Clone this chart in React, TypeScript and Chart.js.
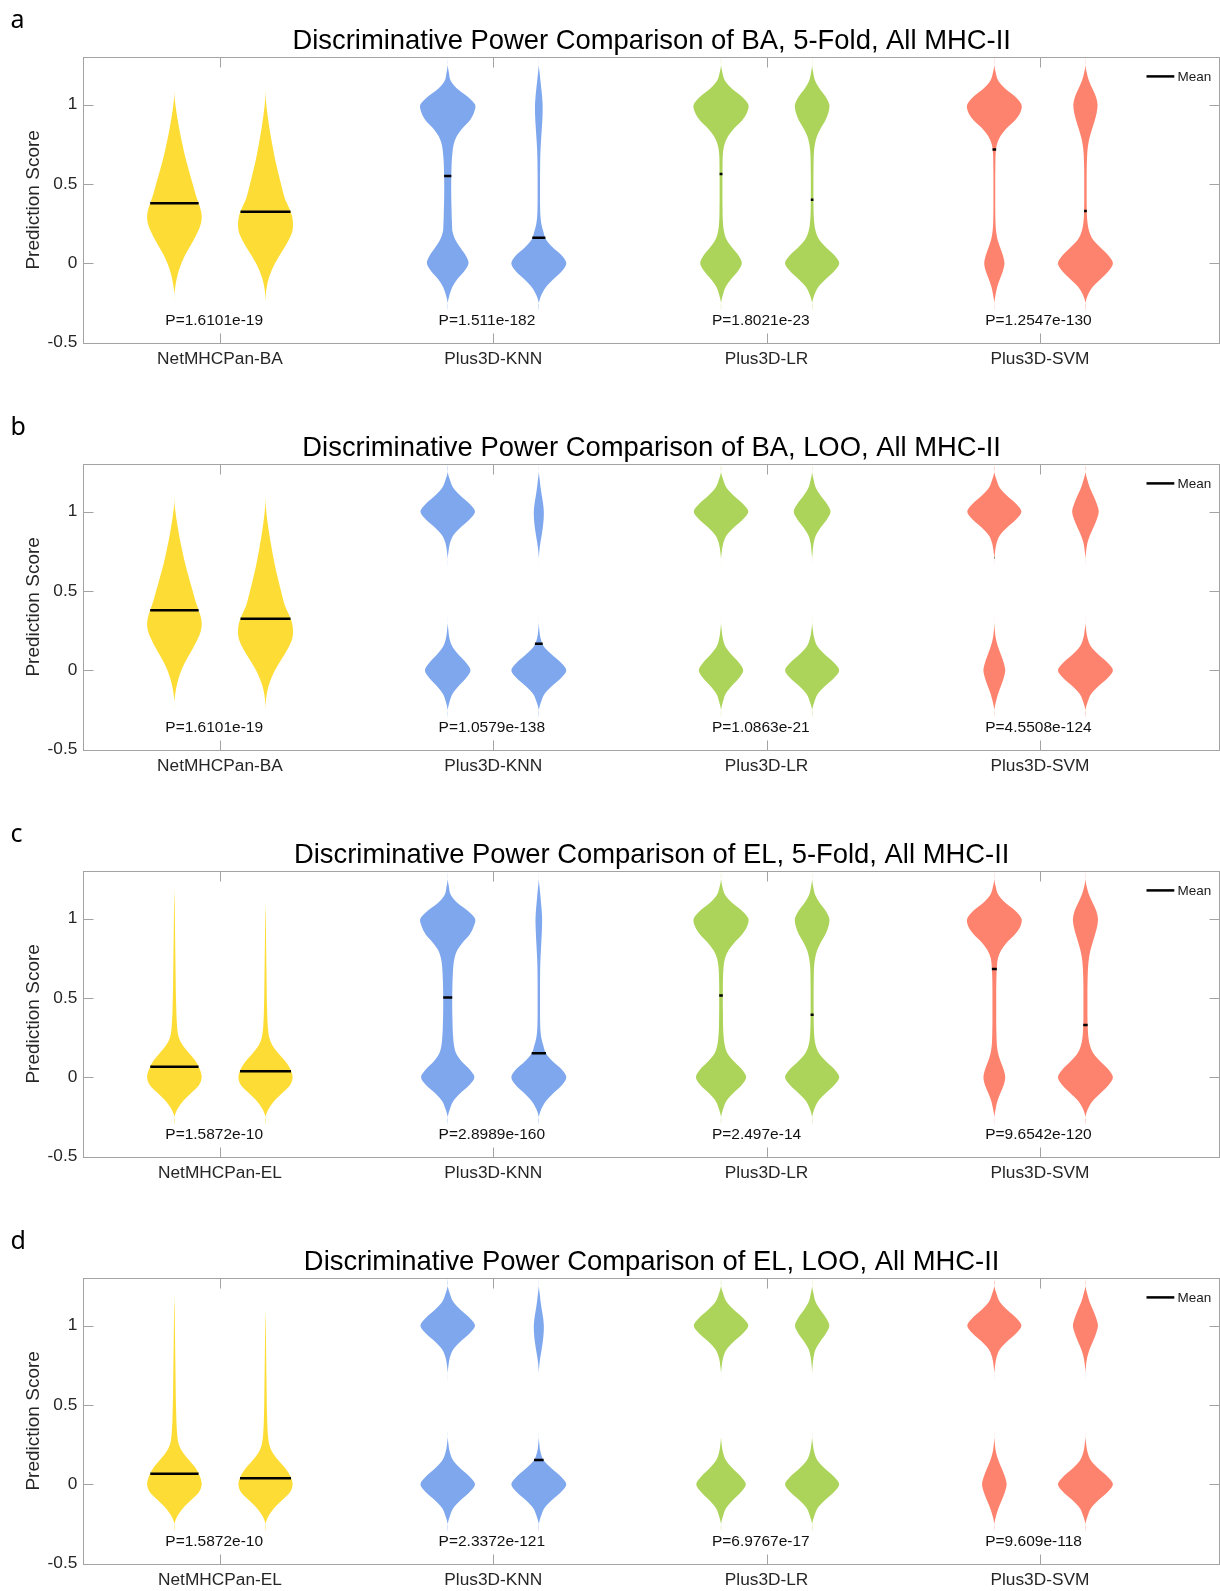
import React, { useEffect, useRef } from 'react';
import { Chart, registerables } from 'chart.js';

Chart.register(...registerables);

// ---------------- data ----------------
const Y_LEVELS = [-0.3, -0.25, -0.2, -0.15, -0.1, -0.05, 0, 0.05, 0.1, 0.15, 0.2, 0.25, 0.3, 0.35, 0.4, 0.45, 0.5, 0.55, 0.6, 0.65, 0.7, 0.75, 0.8, 0.85, 0.9, 0.95, 1, 1.05, 1.1, 1.15, 1.2, 1.25, 1.3];

const CATEGORY_POS = [1, 2, 3, 4];
const CATEGORIES_BA = ['NetMHCPan-BA', 'Plus3D-KNN', 'Plus3D-LR', 'Plus3D-SVM'];
const CATEGORIES_EL = ['NetMHCPan-EL', 'Plus3D-KNN', 'Plus3D-LR', 'Plus3D-SVM'];
const Y_TICKS = [-0.5, 0, 0.5, 1];
const Y_TICK_LABELS = ['-0.5', '0', '0.5', '1'];

const TITLES = [
  'Discriminative Power Comparison of BA, 5-Fold, All MHC-II',
  'Discriminative Power Comparison of BA, LOO, All MHC-II',
  'Discriminative Power Comparison of EL, 5-Fold, All MHC-II',
  'Discriminative Power Comparison of EL, LOO, All MHC-II',
];
const PANEL_LETTERS = ['a', 'b', 'c', 'd'];

const P_VALUES_A = ['P=1.6101e-19', 'P=1.511e-182', 'P=1.8021e-23', 'P=1.2547e-130'];
const P_VALUES_B = ['P=1.6101e-19', 'P=1.0579e-138', 'P=1.0863e-21', 'P=4.5508e-124'];
const P_VALUES_C = ['P=1.5872e-10', 'P=2.8989e-160', 'P=2.497e-14', 'P=9.6542e-120'];
const P_VALUES_D = ['P=1.5872e-10', 'P=2.3372e-121', 'P=6.9767e-17', 'P=9.609e-118'];

// means, in violin order (per category: left, right)
const MEANS_A = [0.378, 0.325, 0.55, 0.162, 0.563, 0.4, 0.717, 0.33];
const MEANS_B = [0.378, 0.325, 0.54, 0.167, 0.56, 0.4, 0.71, 0.33];
const MEANS_C = [0.067, 0.038, 0.503, 0.151, 0.515, 0.395, 0.683, 0.329];
const MEANS_D = [0.067, 0.038, 0.5, 0.153, 0.515, 0.395, 0.683, 0.329];

// violin density profiles (half-width) sampled at Y_LEVELS
const A_BA1 = [0, 0, 0, 0.8, 2.2, 4.2, 7, 10.5, 15, 19.5, 23.5, 26.5, 27.3, 25.8, 23, 20.5, 18.3, 16, 13.8, 11.7, 9.7, 8, 6.3, 4.8, 3.4, 2.1, 1, 0.2, 0, 0, 0, 0, 0];
const A_BA2 = [0, 0, 0.3, 1.2, 3, 5.8, 9.5, 14, 19, 23.5, 26.8, 27.5, 26.5, 23.5, 19.8, 17.5, 15.5, 13.5, 11.6, 9.8, 8.2, 6.7, 5.3, 4, 2.8, 1.7, 0.8, 0.2, 0, 0, 0, 0, 0];
const A_KNN1 = [0, 0, 1.8, 4.5, 9.5, 16.5, 20.8, 18, 12.5, 7.5, 4.8, 4.3, 4.0, 3.8, 3.6, 3.5, 3.5, 3.6, 3.8, 4.1, 4.8, 6, 9, 14.5, 22, 26.3, 27.3, 20, 9.5, 3, 1.2, 0, 0];
const A_KNN2 = [0, 0, 2.5, 7, 14.5, 23, 27.5, 23, 14, 7.2, 4.5, 2.5, 1.6, 1.3, 1.2, 1.2, 1.2, 1.2, 1.3, 1.4, 1.6, 2, 2.5, 3, 3.5, 3.8, 3.8, 3.3, 2.5, 1.6, 0.8, 0, 0];
const A_LR1 = [0, 0, 1.8, 4.5, 10, 16.8, 20.8, 17.5, 11, 5.5, 3, 2, 1.6, 1.5, 1.4, 1.4, 1.4, 1.4, 1.5, 1.6, 2, 3.5, 7, 13, 21, 26, 27.3, 21, 11, 4, 1.4, 0, 0];
const A_LR2 = [0, 0, 2.2, 6, 13.5, 22, 27.1, 22.5, 14, 7, 3.6, 2.2, 1.6, 1.4, 1.3, 1.3, 1.3, 1.3, 1.4, 1.5, 1.8, 2.8, 4.8, 8.5, 13.2, 16.3, 17.2, 13.5, 7.5, 3, 1.1, 0, 0];
const A_SVM1 = [0, 0, 1.2, 2.8, 5.5, 8.5, 10.1, 8.6, 5.8, 3.2, 1.8, 1.2, 1, 0.9, 0.9, 0.9, 0.9, 0.9, 1, 1.1, 1.4, 2.6, 6, 12, 20.5, 26, 27.1, 21, 11, 4, 1.4, 0, 0];
const A_SVM2 = [0, 0, 2.4, 7, 15, 23, 27.5, 23, 15, 7.5, 3.8, 2.2, 1.5, 1.3, 1.2, 1.2, 1.2, 1.2, 1.3, 1.5, 1.9, 2.8, 4.5, 6.8, 9.3, 11.3, 12.1, 10.5, 7, 3.5, 1.3, 0, 0];

const B_KNN1 = [0, 0, 1.8, 4.6, 10.7, 18.2, 22.8, 18.2, 10.7, 4.6, 1.8, 0.7, 0, 0, 0, 0, 0, 0, 0, 0, 0, 0.8, 2.2, 5.5, 12.8, 21.8, 27.3, 21.8, 12.8, 5.5, 2.2, 0, 0];
const B_KNN2 = [0, 0, 2.2, 5.5, 12.9, 22, 27.5, 22, 12.9, 5, 1.8, 0.6, 0, 0, 0, 0, 0, 0, 0, 0, 0, 0.5, 1.5, 2.8, 4, 4.8, 5, 4.3, 3, 1.8, 0.9, 0, 0];
const B_LR1 = [0, 0, 1.8, 4.4, 10.4, 17.8, 22.2, 17.8, 10.4, 4.4, 1.8, 0.7, 0, 0, 0, 0, 0, 0, 0, 0, 0, 0.8, 2.2, 5.5, 12.8, 21.8, 27.3, 21.8, 12.8, 5.5, 2.2, 0, 0];
const B_LR2 = [0, 0, 2.2, 5.4, 12.7, 21.7, 27.1, 21.7, 12.7, 5.4, 2.2, 0.8, 0, 0, 0, 0, 0, 0, 0, 0, 0, 0.6, 1.5, 3.7, 8.6, 14.7, 18.4, 14.7, 8.6, 3.7, 1.5, 0, 0];
const B_SVM1 = [0, 0, 1.5, 3.6, 6.5, 9.3, 10.9, 9.3, 6.5, 3.6, 1.5, 0.5, 0, 0, 0, 0, 0, 0, 0, 0, 0, 0.8, 2.2, 5.4, 12.7, 21.7, 27.1, 21.7, 12.7, 5.4, 2.2, 0, 0];
const B_SVM2 = [0, 0, 2.2, 5.5, 12.9, 22, 27.5, 22, 12.9, 5.5, 2.2, 0.8, 0, 0, 0, 0, 0, 0, 0, 0, 0, 0.7, 1.9, 4.4, 8, 11.3, 13.3, 11.3, 8, 4.4, 1.9, 0, 0];

const C_EL1 = [0, 0, 3, 8.5, 16.5, 24.5, 27.3, 25.5, 21.5, 15, 8.5, 4.5, 3, 2.4, 2, 1.8, 1.6, 1.4, 1.3, 1.2, 1.1, 1, 0.9, 0.8, 0.7, 0.6, 0.5, 0.4, 0.3, 0.1, 0, 0, 0];
const C_EL2 = [0, 0, 3, 8.5, 16.5, 24.5, 27.1, 25, 20, 13, 7, 3.8, 2.6, 2, 1.7, 1.5, 1.3, 1.2, 1.1, 1, 0.9, 0.8, 0.7, 0.6, 0.5, 0.4, 0.3, 0.15, 0, 0, 0, 0, 0];
const C_KNN1 = [0, 0, 2.2, 5.5, 12.5, 21.5, 26.7, 22, 14, 8.5, 6.3, 5.5, 5, 4.8, 4.6, 4.5, 4.5, 4.6, 4.8, 5.1, 5.6, 6.8, 9.5, 15, 22, 26, 27.3, 20, 9.5, 3, 1.2, 0, 0];
const C_KNN2 = [0, 0, 2.5, 7, 14.5, 23, 27.5, 23, 14, 7.2, 4.5, 2.5, 1.6, 1.3, 1.2, 1.2, 1.2, 1.2, 1.2, 1.3, 1.4, 1.7, 2.1, 2.5, 2.9, 3.2, 3.3, 2.9, 2.2, 1.5, 0.7, 0, 0];
const C_LR1 = [0, 0, 2.1, 5.2, 12, 20.5, 25.1, 21, 13, 6.5, 3.8, 2.7, 2.2, 2, 1.9, 1.8, 1.8, 1.8, 1.9, 2.1, 2.6, 4, 7.5, 13.5, 21, 26, 27.3, 21, 11, 4, 1.4, 0, 0];
const C_LR2 = [0, 0, 2.2, 6, 13.5, 22, 27.1, 22.5, 14, 7, 3.6, 2.3, 1.8, 1.6, 1.5, 1.5, 1.5, 1.5, 1.6, 1.7, 2, 3, 5, 8.6, 13.2, 16.3, 17.2, 13.5, 7.5, 3, 1.1, 0, 0];
const C_SVM1 = [0, 0, 1.3, 3, 6, 9.3, 10.9, 9.3, 6.3, 3.8, 2.6, 2.2, 2, 1.9, 1.9, 1.9, 1.9, 1.9, 2, 2.2, 2.6, 3.6, 6.8, 12.5, 20.5, 26, 27.1, 21, 11, 4, 1.4, 0, 0];
const C_SVM2 = [0, 0, 2.4, 7, 15, 23, 27.5, 23, 15, 8, 4.5, 3, 2.4, 2.1, 2, 2, 2, 2, 2.1, 2.3, 2.7, 3.5, 5, 7.2, 9.6, 11.7, 12.5, 10.8, 7.2, 3.6, 1.3, 0, 0];

const D_KNN1 = [0, 0, 2.2, 5.5, 12.8, 21.8, 27.3, 21.8, 12.8, 5.5, 2.2, 0.8, 0, 0, 0, 0, 0, 0, 0, 0, 0, 0.8, 2.2, 5.5, 12.8, 21.8, 27.3, 21.8, 12.8, 5.5, 2.2, 0, 0];
const D_KNN2 = [0, 0, 2.2, 5.5, 12.9, 22, 27.5, 22, 12.9, 5, 1.8, 0.6, 0, 0, 0, 0, 0, 0, 0, 0, 0, 0.5, 1.5, 2.8, 4, 4.8, 5, 4.3, 3, 1.8, 0.9, 0, 0];
const D_LR1 = [0, 0, 2, 5, 11.7, 19.8, 24.8, 19.8, 11.7, 5, 2, 0.7, 0, 0, 0, 0, 0, 0, 0, 0, 0, 0.8, 2.2, 5.5, 12.8, 21.8, 27.3, 21.8, 12.8, 5.5, 2.2, 0, 0];
const D_LR2 = [0, 0, 2.2, 5.4, 12.7, 21.7, 27.1, 21.7, 12.7, 5.4, 2.2, 0.8, 0, 0, 0, 0, 0, 0, 0, 0, 0, 0.5, 1.4, 3.4, 8.1, 13.8, 17.2, 13.8, 8.1, 3.4, 1.4, 0, 0];
const D_SVM1 = [0, 0, 1.7, 4.1, 7.4, 10.5, 12.3, 10.5, 7.4, 4.1, 1.7, 0.6, 0, 0, 0, 0, 0, 0, 0, 0, 0, 0.8, 2.2, 5.4, 12.7, 21.7, 27.1, 21.7, 12.7, 5.4, 2.2, 0, 0];
const D_SVM2 = [0, 0, 2.2, 5.5, 12.9, 22, 27.5, 22, 12.9, 5.5, 2.2, 0.8, 0, 0, 0, 0, 0, 0, 0, 0, 0, 0.6, 1.8, 4.1, 7.5, 10.6, 12.5, 10.6, 7.5, 4.1, 1.8, 0, 0];

const PROFILES_A = [A_BA1, A_BA2, A_KNN1, A_KNN2, A_LR1, A_LR2, A_SVM1, A_SVM2];
const PROFILES_B = [A_BA1, A_BA2, B_KNN1, B_KNN2, B_LR1, B_LR2, B_SVM1, B_SVM2];
const PROFILES_C = [C_EL1, C_EL2, C_KNN1, C_KNN2, C_LR1, C_LR2, C_SVM1, C_SVM2];
const PROFILES_D = [C_EL1, C_EL2, D_KNN1, D_KNN2, D_LR1, D_LR2, D_SVM1, D_SVM2];

// ---------------- style ----------------
const FONT = '"Liberation Sans", Arial, Helvetica, sans-serif';
const VIOLIN_COLORS = ['#FDDD35', '#7FA7EE', '#ACD45B', '#FE836E'];
const VIOLIN_OFFSETS = [-1 / 6, 1 / 6];
const WIDTH_SCALE = 1 / 273.3; // x-units per density unit
const AXIS_COLOR = '#a3a3a3';
const TEXT_COLOR = '#262626';
const TICK_LEN = 10;
const P_LABEL_X_OFFSET = -0.2;
const P_LABEL_Y = -0.388;
const CANVAS_W = 1220;
const CANVAS_H = 407;

type Panel = {
  letter: string;
  title: string;
  categories: string[];
  pValues: string[];
  means: number[];
  profiles: number[][];
};

const PANELS: Panel[] = [
  { letter: PANEL_LETTERS[0], title: TITLES[0], categories: CATEGORIES_BA, pValues: P_VALUES_A, means: MEANS_A, profiles: PROFILES_A },
  { letter: PANEL_LETTERS[1], title: TITLES[1], categories: CATEGORIES_BA, pValues: P_VALUES_B, means: MEANS_B, profiles: PROFILES_B },
  { letter: PANEL_LETTERS[2], title: TITLES[2], categories: CATEGORIES_EL, pValues: P_VALUES_C, means: MEANS_C, profiles: PROFILES_C },
  { letter: PANEL_LETTERS[3], title: TITLES[3], categories: CATEGORIES_EL, pValues: P_VALUES_D, means: MEANS_D, profiles: PROFILES_D },
];

function violinCenter(k: number) {
  return CATEGORY_POS[Math.floor(k / 2)] + VIOLIN_OFFSETS[k % 2];
}

function profileAt(prof: number[], y: number) {
  for (let i = 0; i < Y_LEVELS.length - 1; i++) {
    const y0 = Y_LEVELS[i], y1 = Y_LEVELS[i + 1];
    if (y >= y0 && y <= y1) {
      const t = (y - y0) / (y1 - y0);
      return prof[i] + (prof[i + 1] - prof[i]) * t;
    }
  }
  return 0;
}

function fillViolin(ctx: CanvasRenderingContext2D, xs: any, ys: any, center: number, prof: number[]) {
  const pts: number[][] = [];
  for (let i = 0; i < prof.length; i++) {
    pts.push([xs.getPixelForValue(center + prof[i] * WIDTH_SCALE), ys.getPixelForValue(Y_LEVELS[i])]);
  }
  for (let i = prof.length - 1; i >= 0; i--) {
    pts.push([xs.getPixelForValue(center - prof[i] * WIDTH_SCALE), ys.getPixelForValue(Y_LEVELS[i])]);
  }
  const n = pts.length;
  ctx.beginPath();
  ctx.moveTo(pts[0][0], pts[0][1]);
  for (let i = 0; i < n - 1; i++) {
    const p0 = pts[Math.max(i - 1, 0)];
    const p1 = pts[i];
    const p2 = pts[i + 1];
    const p3 = pts[Math.min(i + 2, n - 1)];
    ctx.bezierCurveTo(
      p1[0] + (p2[0] - p0[0]) / 6, p1[1] + (p2[1] - p0[1]) / 6,
      p2[0] - (p3[0] - p1[0]) / 6, p2[1] - (p3[1] - p1[1]) / 6,
      p2[0], p2[1]
    );
  }
  ctx.closePath();
  ctx.fill();
}

function makeConfig(panel: Panel): any {
  const plugin = {
    id: 'violinDecor',
    beforeDatasetsDraw(chart: any) {
      const { ctx, chartArea } = chart;
      const xs = chart.scales.x, ys = chart.scales.y;
      ctx.save();
      ctx.beginPath();
      ctx.rect(chartArea.left, chartArea.top, chartArea.right - chartArea.left, chartArea.bottom - chartArea.top);
      ctx.clip();
      panel.profiles.forEach((prof, k) => {
        ctx.fillStyle = VIOLIN_COLORS[Math.floor(k / 2)];
        fillViolin(ctx, xs, ys, violinCenter(k), prof);
      });
      ctx.restore();
    },
    afterDatasetsDraw(chart: any) {
      const { ctx, chartArea: a } = chart;
      const xs = chart.scales.x, ys = chart.scales.y;
      ctx.save();
      // box + inward ticks
      ctx.strokeStyle = AXIS_COLOR;
      ctx.lineWidth = 1;
      const L = Math.round(a.left) + 0.5;
      const R = Math.round(a.right) - 0.5;
      const T = Math.round(a.top) + 0.5;
      const B = Math.round(a.bottom) + 0.5;
      ctx.strokeRect(L, T, R - L, B - T);
      ctx.beginPath();
      CATEGORY_POS.forEach((v) => {
        const x = Math.round(xs.getPixelForValue(v)) + 0.5;
        ctx.moveTo(x, B); ctx.lineTo(x, B - TICK_LEN);
        ctx.moveTo(x, T); ctx.lineTo(x, T + TICK_LEN);
      });
      Y_TICKS.forEach((v) => {
        const y = Math.round(ys.getPixelForValue(v)) + 0.5;
        ctx.moveTo(L, y); ctx.lineTo(L + TICK_LEN, y);
        ctx.moveTo(R, y); ctx.lineTo(R - TICK_LEN, y);
      });
      ctx.stroke();

      // p-values
      ctx.fillStyle = '#111';
      ctx.font = `15.5px ${FONT}`;
      ctx.textAlign = 'left';
      ctx.textBaseline = 'alphabetic';
      panel.pValues.forEach((p, i) => {
        ctx.fillText(p, xs.getPixelForValue(CATEGORY_POS[i] + P_LABEL_X_OFFSET), ys.getPixelForValue(P_LABEL_Y));
      });

      // legend
      const ly = a.top + 19.4;
      ctx.strokeStyle = '#000';
      ctx.lineWidth = 2.5;
      ctx.beginPath();
      ctx.moveTo(a.right - 73.5, ly);
      ctx.lineTo(a.right - 45.7, ly);
      ctx.stroke();
      ctx.fillStyle = '#1a1a1a';
      ctx.font = `13.5px ${FONT}`;
      ctx.textBaseline = 'middle';
      ctx.fillText('Mean', a.right - 42.5, ly + 0.5);

      // title
      ctx.fillStyle = '#000';
      ctx.font = `27.4px ${FONT}`;
      ctx.textAlign = 'center';
      ctx.textBaseline = 'alphabetic';
      ctx.fillText(panel.title, (a.left + a.right) / 2, a.top - 8.5);

      // panel letter
      ctx.font = '25px "Noto Sans", "DejaVu Sans", sans-serif';
      ctx.textAlign = 'left';
      ctx.fillText(panel.letter, 10.5, 28.4);
      ctx.restore();
    },
  };

  return {
    type: 'scatter',
    data: {
      datasets: [
        {
          label: 'Mean',
          data: panel.means.map((m, k) => ({ x: violinCenter(k), y: m })),
          pointStyle: 'line',
          pointRadius: (c: any) => {
            const k = c.dataIndex;
            if (k === undefined) return 0;
            const xs = c.chart.scales.x;
            const center = violinCenter(k);
            const w = profileAt(panel.profiles[k], panel.means[k]);
            return xs.getPixelForValue(center + w * WIDTH_SCALE) - xs.getPixelForValue(center);
          },
          pointBorderWidth: 2.5,
          pointBorderColor: '#000',
          pointBackgroundColor: '#000',
          borderColor: '#000',
          showLine: false,
        },
      ],
    },
    options: {
      responsive: false,
      animation: false,
      events: [],
      layout: { padding: { top: 57, left: 0, right: 0, bottom: 0 } },
      plugins: {
        legend: { display: false },
        tooltip: { enabled: false },
        title: { display: false },
      },
      scales: {
        x: {
          type: 'linear',
          min: 0.5,
          max: 4.659,
          grid: { display: false, drawTicks: false, tickLength: 0 },
          border: { display: false },
          afterBuildTicks: (s: any) => {
            s.ticks = CATEGORY_POS.map((v) => ({ value: v }));
          },
          afterFit: (s: any) => {
            s.height = CANVAS_H - 57 - 285.7;
          },
          ticks: {
            callback: (_v: any, i: number) => panel.categories[i],
            font: { size: 17.3, family: FONT },
            color: TEXT_COLOR,
            padding: 6,
            maxRotation: 0,
            autoSkip: false,
          },
        },
        y: {
          type: 'linear',
          min: -0.5,
          max: 1.3,
          grid: { display: false, drawTicks: false, tickLength: 0 },
          border: { display: false },
          afterBuildTicks: (s: any) => {
            s.ticks = Y_TICKS.map((v) => ({ value: v }));
          },
          afterFit: (s: any) => {
            s.width = 83.3;
          },
          ticks: {
            callback: (_v: any, i: number) => Y_TICK_LABELS[i],
            font: { size: 17.3, family: FONT },
            color: TEXT_COLOR,
            padding: 6,
            autoSkip: false,
          },
          title: {
            display: true,
            text: 'Prediction Score',
            font: { size: 19, family: FONT },
            color: TEXT_COLOR,
            padding: { top: 22, bottom: 0 },
          },
        },
      },
    },
    plugins: [plugin],
  };
}

export default function App() {
  const canvases = useRef<(HTMLCanvasElement | null)[]>([]);

  useEffect(() => {
    const charts = PANELS.map((p, i) => new Chart(canvases.current[i] as HTMLCanvasElement, makeConfig(p)));
    return () => {
      charts.forEach((c) => c.destroy());
    };
  }, []);

  return (
    <div
      style={{
        position: 'absolute',
        left: 0,
        top: 0,
        width: CANVAS_W,
        height: 1591,
        overflow: 'hidden',
        background: '#fff',
      }}
    >
      {PANELS.map((p, i) => (
        <canvas
          key={p.letter}
          ref={(el) => {
            canvases.current[i] = el;
          }}
          width={CANVAS_W}
          height={CANVAS_H}
          style={{ position: 'absolute', left: 0, top: i * CANVAS_H, width: CANVAS_W, height: CANVAS_H, display: 'block' }}
        />
      ))}
    </div>
  );
}
